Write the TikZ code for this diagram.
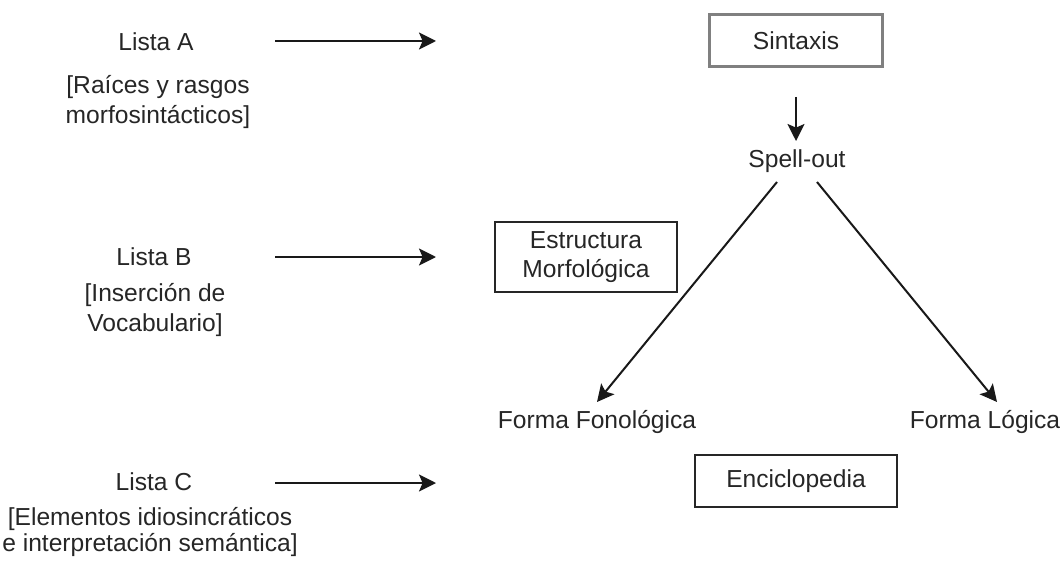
\documentclass[tikz,border=0pt]{standalone}
\usepackage{fontspec}
\setmainfont{Liberation Sans}
\usetikzlibrary{arrows.meta}
\begin{document}
\begin{tikzpicture}[x=0.5pt,y=-0.5pt,
  lbl/.style={font=\fontsize{12.3}{14.5}\selectfont, align=center, inner sep=0pt, text=black!85},
  boxnode/.style={lbl, draw=black!85, line width=1pt},
  conn/.style={line width=1pt, draw=black!90, -{Stealth[length=8.5pt,width=8.5pt,inset=1.8pt]}},
]
\useasboundingbox (0,0) rectangle (1060,567);

% lists on the left
\node[lbl] (la)  at (156,42)  {Lista A};
\node[lbl, font=\fontsize{12.3}{15}\selectfont] (lad) at (158,102) {[Raíces y rasgos\\morfosintácticos]};
\node[lbl] (lb)  at (154,257) {Lista B};
\node[lbl, font=\fontsize{12.3}{15.3}\selectfont] (lbd) at (155,310) {[Inserción de\\Vocabulario]};
\node[lbl] (lc)  at (154,482) {Lista C};
\node[lbl, font=\fontsize{12.3}{12.6}\selectfont] (lcd) at (150,532) {[Elementos idiosincráticos\\e interpretación semántica]};

% arrows of the lists
\coordinate (a1) at (275,41);  \coordinate (a2) at (436,41);
\coordinate (b1) at (275,257); \coordinate (b2) at (436,257);
\coordinate (c1) at (275,483); \coordinate (c2) at (436,483);
\draw[conn] (a1) -- (a2);
\draw[conn] (b1) -- (b2);
\draw[conn] (c1) -- (c2);

% derivation
\node[boxnode, draw=black!50, line width=1.5pt, minimum width=86.5pt, minimum height=26pt] (sin) at (796,41) {Sintaxis};
\node[lbl] (spo) at (797,161) {Spell-out};
\node[boxnode, minimum width=91pt, minimum height=35pt] (em) at (586,257) {Estructura\\Morfológica};
\node[lbl] (ff) at (597,422) {Forma Fonológica};
\node[lbl] (fl) at (985,422) {Forma Lógica};
\node[boxnode, minimum width=101pt, minimum height=26pt] (enc) at (796,481) {Enciclopedia};

\coordinate (d1) at (796,97);
\coordinate (d2) at (796,141);
\draw[conn] (d1) -- (d2);

\coordinate (l1) at (777,182);  \coordinate (l2) at (597,402);
\coordinate (r1) at (817,182);  \coordinate (r2) at (997,402);
\draw[conn] (l1) -- (l2);
\draw[conn] (r1) -- (r2);
\end{tikzpicture}
\end{document}
